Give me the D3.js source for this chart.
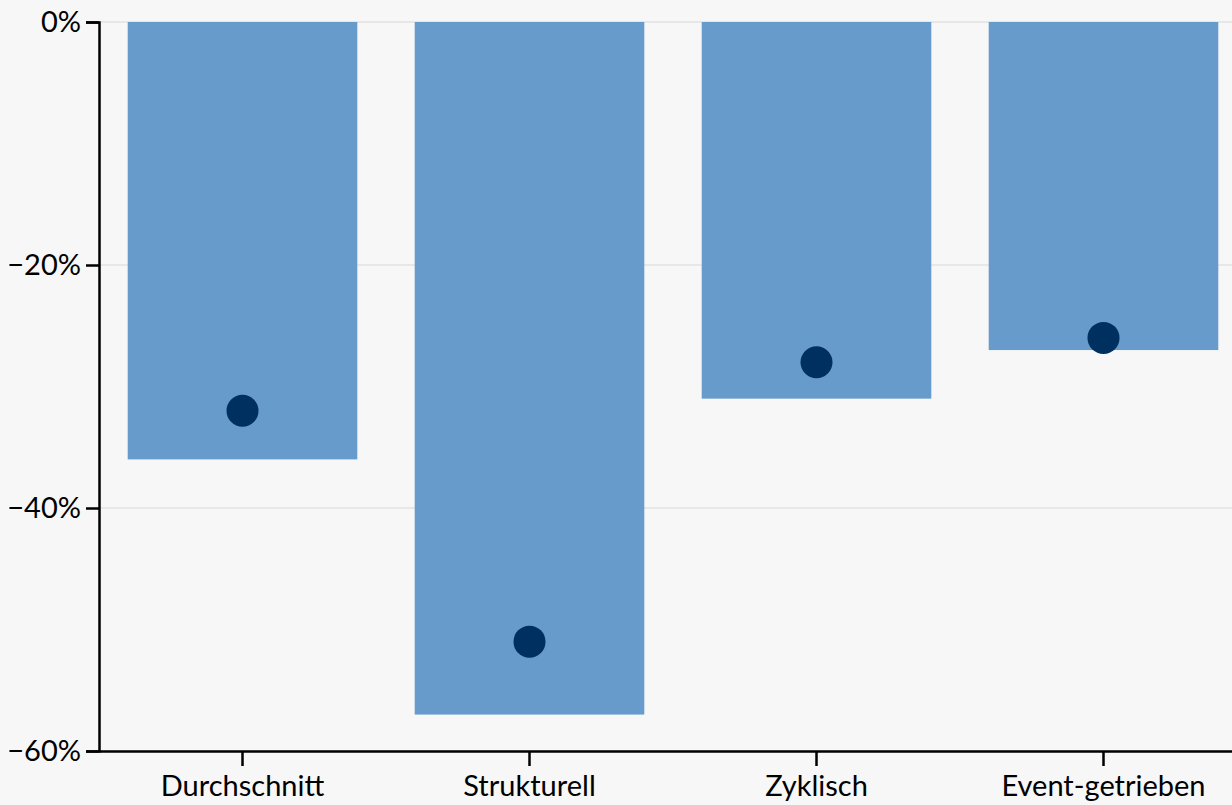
<!DOCTYPE html>
<html>
<head>
<meta charset="utf-8">
<script src="https://cdn.jsdelivr.net/npm/d3@7"></script>
<style>
  body { margin: 0; background: #f7f7f7; }
  svg { display: block; }
  .tick text { font-family: Lato, "Open Sans", sans-serif; font-size: 29px; fill: #000; }
</style>
</head>
<body>
<div id="chart"></div>
<script>
// data
const categories = ["Durchschnitt", "Strukturell", "Zyklisch", "Event-getrieben"];
const barValues = [-36, -57, -31, -27];
const dotValues = [-32, -51, -28, -26];
const yTicks = [0, -20, -40, -60];

const width = 1232, height = 805;
const margin = {top: 22, left: 99, bottom: 54};

const svg = d3.select("#chart").append("svg")
    .attr("width", width)
    .attr("height", height);

svg.append("rect").attr("width", width).attr("height", height).attr("fill", "#f7f7f7");

const x = d3.scaleBand()
    .domain(categories)
    .range([margin.left, 1247])
    .paddingInner(0.2)
    .paddingOuter(0.1);

const y = d3.scaleLinear()
    .domain([0, -60])
    .range([margin.top, height - margin.bottom]);

// gridlines
svg.append("g")
    .selectAll("line")
    .data(yTicks)
    .enter()
    .append("line")
    .attr("x1", margin.left)
    .attr("x2", width)
    .attr("y1", d => y(d))
    .attr("y2", d => y(d))
    .attr("stroke", "#e2e2e2")
    .attr("stroke-width", 1.5);

// bars
svg.append("g")
    .selectAll("rect")
    .data(categories)
    .enter()
    .append("rect")
    .attr("x", d => x(d))
    .attr("width", x.bandwidth())
    .attr("y", y(0))
    .attr("height", (d, i) => y(barValues[i]) - y(0))
    .attr("fill", "#669bcb");

// dots
svg.append("g")
    .selectAll("circle")
    .data(categories)
    .enter()
    .append("circle")
    .attr("cx", d => x(d) + x.bandwidth() / 2)
    .attr("cy", (d, i) => y(dotValues[i]))
    .attr("r", 16)
    .attr("fill", "#00305f");

// y axis
svg.append("g")
    .attr("transform", "translate(" + margin.left + ",0)")
    .call(d3.axisLeft(y).tickValues(yTicks).tickSize(13).tickPadding(5)
        .tickFormat(d => (d < 0 ? "\u2212" + Math.abs(d) : d) + "%"));

// x axis
svg.append("g")
    .attr("transform", "translate(0," + y(-60) + ")")
    .call(d3.axisBottom(x).tickSizeInner(15).tickSizeOuter(0).tickPadding(9));

svg.selectAll(".domain, .tick line")
    .attr("stroke", "#000")
    .attr("stroke-width", 2.5);
</script>
</body>
</html>
